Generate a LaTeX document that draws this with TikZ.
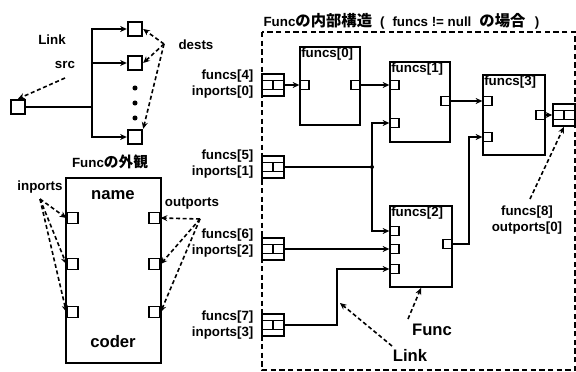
\documentclass[tikz,border=0pt]{standalone}
\usepackage{fontspec}
\setmainfont{Liberation Sans}
\newfontfamily\jp{Noto Sans CJK JP}
\usetikzlibrary{arrows.meta}
\begin{document}
\begin{tikzpicture}[x=0.75pt,y=-0.75pt,
  font=\bfseries\fontsize{10}{12}\selectfont,
  every node/.style={inner sep=1pt},
  fb/.style={draw, line width=1.5pt, inner sep=0},
  fl/.style={anchor=north west, inner sep=1.5pt},
  pt/.style={draw, line width=1pt, inner sep=0, minimum width=6.75pt, minimum height=6.75pt},
  bp/.style={draw, line width=1pt, inner sep=0, minimum width=8.25pt, minimum height=8.25pt},
  lsq/.style={draw, line width=1.3pt, inner sep=0, minimum width=11pt, minimum height=11pt},
  pbox/.style={draw, line width=1.2pt, inner sep=0, minimum width=16.5pt, minimum height=16.5pt},
  psq/.style={draw, line width=1pt, inner sep=0, minimum width=8.25pt, minimum height=6.75pt},
  conn/.style={line width=1.2pt, -{Stealth[length=5pt,width=4.5pt]}},
  plain/.style={line width=1.2pt},
  note/.style={line width=1.2pt, dash pattern=on 3pt off 2pt, -{Stealth[length=5pt,width=4.5pt]}},
  big/.style={font=\bfseries\fontsize{12.5}{14}\selectfont}
]
\useasboundingbox (0,0) rectangle (576,372);
\newcommand\dblbox[3]{%
  \node[pbox] (#1) at (#2,#3) {};
  \node[psq, anchor=east] at (#1.center) {};
  \node[psq, anchor=west] at (#1.center) {};}

% ---------- Link (top left) ----------
\node (lk) at (52,40) {Link};
\node (srcl) at (65,65) {src};
\node (dl) at (196,45) {dests};
\node[lsq] (S) at (18,107) {};
\node[lsq] (D1) at (135,29) {};
\node[lsq] (D2) at (135,63) {};
\node[lsq] (D3) at (135,137) {};
\coordinate (J) at (92,107);
\draw[plain] (S) -- (J);
\draw[conn] (J) |- (D1);
\draw[conn] (J) |- (D2);
\draw[conn] (J) |- (D3);
\fill (135,88) circle[radius=1.9pt];
\fill (135,103) circle[radius=1.9pt];
\fill (135,118) circle[radius=1.9pt];
\coordinate (sa) at (65,78);
\draw[note] (sa) -- (S.north);
\coordinate (da) at (164,44);
\draw[note] (da) -- (D1.east);
\draw[note] (da) -- (D2.east);
\draw[note] (da) -- (D3.north east);

% ---------- Func exterior ----------
\node (ft) at (110,162) {Func{\jp\fontsize{11}{12}\selectfont の外観}};
\node[fb, minimum width=71.25pt, minimum height=138.75pt] (F) at (113.5,270.5) {};
\node[big] at (113,195) {name};
\node[big] at (113,342) {coder};
\node[bp] (L1) at (72.5,218) {};
\node[bp] (L2) at (72.5,264) {};
\node[bp] (L3) at (72.5,312) {};
\node[bp] (R1) at (154.5,218) {};
\node[bp] (R2) at (154.5,264) {};
\node[bp] (R3) at (154.5,312) {};
\node (inl) at (40,187) {inports};
\node (outl) at (192,204) {outports};
\coordinate (ia) at (40,199);
\draw[note] (ia) -- (L1.west);
\draw[note] (ia) -- (L2.west);
\draw[note] (ia) -- (L3.west);
\coordinate (oa) at (200,219);
\draw[note] (oa) -- (R1.east);
\draw[note] (oa) -- (R2.east);
\draw[note] (oa) -- (R3.east);

% ---------- Func internal structure ----------
\node[anchor=west] (title) at (262,21) {Func{\jp\fontsize{11.5}{12}\selectfont の内部構造}\hspace{6pt}(\hspace{6pt}funcs != null\hspace{6pt}{\jp\fontsize{11.5}{12}\selectfont の場合}\hspace{7pt})};
\draw[line width=1.2pt, dash pattern=on 4pt off 2.5pt] (262,32) rectangle (575,370);

\node[fb, minimum width=45pt, minimum height=58.5pt] (f0) at (330,86) {};
\node[fl] at (f0.north west) {funcs[0]};
\node[fb, minimum width=45pt, minimum height=60pt] (f1) at (420,102) {};
\node[fl] at (f1.north west) {funcs[1]};
\node[fb, minimum width=46.5pt, minimum height=60pt] (f3) at (514,115) {};
\node[fl] at (f3.north west) {funcs[3]};
\node[fb, minimum width=46.5pt, minimum height=60.75pt] (f2) at (421,246.5) {};
\node[fl] at (f2.north west) {funcs[2]};

\node[pt] (p0i) at (304.5,85) {};
\node[pt] (p0o) at (355.5,85) {};
\node[pt] (p1a) at (394.5,85) {};
\node[pt] (p1b) at (394.5,123) {};
\node[pt] (p1o) at (445.5,101) {};
\node[pt] (p3a) at (487.5,101) {};
\node[pt] (p3b) at (487.5,137) {};
\node[pt] (p3o) at (540.5,115) {};
\node[pt] (p2a) at (394.5,231) {};
\node[pt] (p2b) at (394.5,249) {};
\node[pt] (p2c) at (394.5,269) {};
\node[pt] (p2o) at (447.5,244) {};

\dblbox{i4}{273}{85}
\dblbox{i5}{273}{167}
\dblbox{i6}{273}{249}
\dblbox{i7}{273}{325}
\dblbox{o8}{564}{115}

\node[align=right, anchor=east] at (255,84) {funcs[4]\\inports[0]};
\node[align=right, anchor=east] at (255,164) {funcs[5]\\inports[1]};
\node[align=right, anchor=east] at (255,243) {funcs[6]\\inports[2]};
\node[align=right, anchor=east] at (255,325) {funcs[7]\\inports[3]};

\draw[conn] (i4) -- (p0i);
\draw[conn] (p0o) -- (p1a);
\draw[conn] (p1o) -- (p3a);
\draw[conn] (p3o) -- (o8);
\coordinate (J5) at (372,167);
\draw[plain] (i5) -- (J5);
\fill (J5) circle[radius=1.5pt];
\draw[conn] (J5) |- (p1b);
\draw[conn] (J5) |- (p2a);
\draw[conn] (i6) -- (p2b);
\coordinate (J7) at (337,325);
\draw[conn] (i7) -- (J7) |- (p2c);
\coordinate (J2) at (469,244);
\draw[conn] (p2o) -- (J2) |- (p3b);

\node[align=center] (l8) at (527,220) {funcs[8]\\outports[0]};
\coordinate (la) at (530,199);
\draw[note] (la) -- (o8.south);
\node[big] (fn) at (432,330) {Func};
\coordinate (fa) at (408,319);
\draw[note] (fa) -- (f2.south);
\node[big] (lk2) at (410,355) {Link};
\coordinate (lka) at (392,346);
\coordinate (lkt) at (340,303);
\draw[note] (lka) -- (lkt);
\end{tikzpicture}
\end{document}
